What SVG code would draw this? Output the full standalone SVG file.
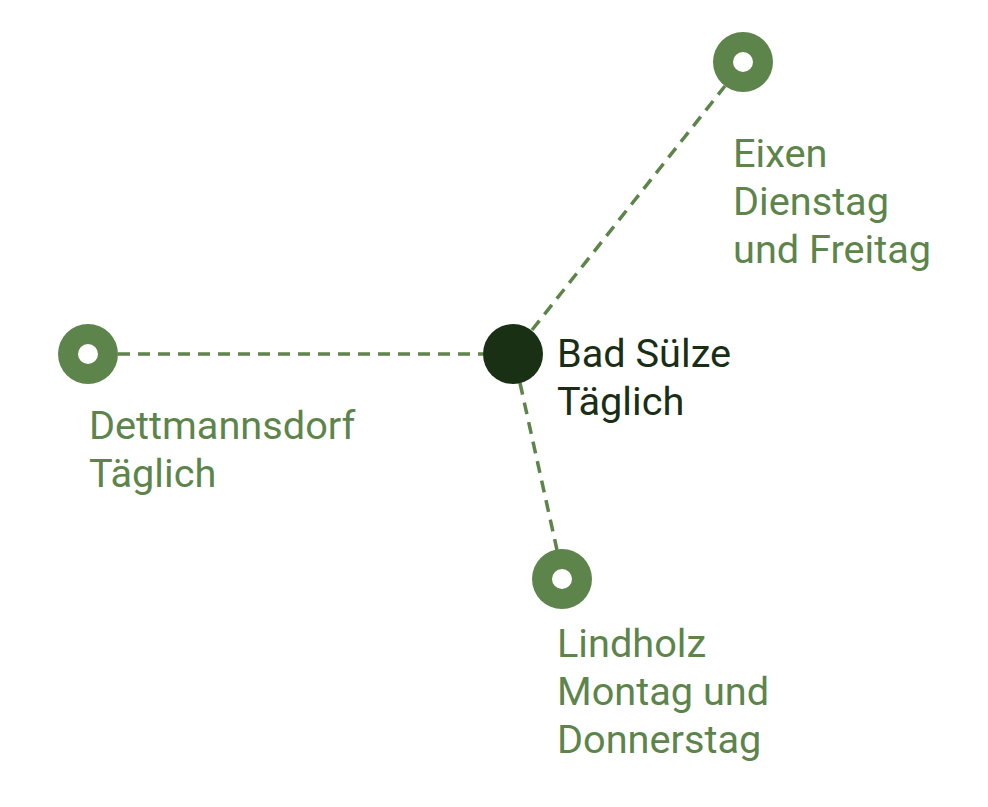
<svg xmlns="http://www.w3.org/2000/svg" width="988" height="807" viewBox="0 0 988 807">
<style>
.edge{stroke:#5d844a;stroke-width:3.5;stroke-dasharray:12 8;fill:none}
.leaf{fill:#5d844a}
.hole{fill:#ffffff}
.hub{fill:#1a3015}
text{font-family:Roboto,"Liberation Sans",sans-serif;font-size:39.7px}
.lt{fill:#5d844a}
.dt{fill:#1a2e16}
</style>
<rect width="988" height="807" fill="#ffffff"/>
<g id="connectors">
<line class="edge" x1="118" y1="354" x2="483" y2="354"/>
<line class="edge" x1="532" y1="330" x2="725" y2="86"/>
<line class="edge" x1="520" y1="383" x2="557" y2="550"/>
</g>
<g id="hub">
<circle class="hub" cx="513" cy="354" r="30"/>
<text class="dt" x="557" y="367">Bad Sülze</text>
<text class="dt" x="557" y="415">Täglich</text>
</g>
<g id="eixen">
<circle class="leaf" cx="743" cy="62" r="30"/>
<circle class="hole" cx="743" cy="62" r="10"/>
<text class="lt" x="733" y="167">Eixen</text>
<text class="lt" x="733" y="215">Dienstag</text>
<text class="lt" x="733" y="263">und Freitag</text>
</g>
<g id="dettmannsdorf">
<circle class="leaf" cx="88" cy="354" r="30"/>
<circle class="hole" cx="88" cy="354" r="10"/>
<text class="lt" x="89" y="439">Dettmannsdorf</text>
<text class="lt" x="89" y="487">Täglich</text>
</g>
<g id="lindholz">
<circle class="leaf" cx="562" cy="579" r="30"/>
<circle class="hole" cx="562" cy="579" r="10"/>
<text class="lt" x="557" y="657">Lindholz</text>
<text class="lt" x="557" y="705">Montag und</text>
<text class="lt" x="557" y="753">Donnerstag</text>
</g>
</svg>
